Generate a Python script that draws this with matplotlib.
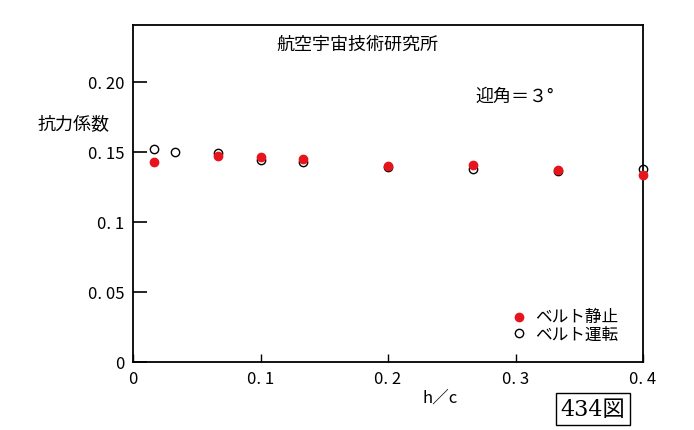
import matplotlib
matplotlib.use("Agg")
import matplotlib.pyplot as plt
from matplotlib.patches import Rectangle

plt.rcParams['font.family'] = ['Noto Sans CJK JP', 'DejaVu Sans']

# data: h/c vs drag coefficient
x_static = [0.0167, 0.0667, 0.1, 0.1333, 0.2, 0.2667, 0.3333, 0.4]
cd_static = [0.1426, 0.1474, 0.1466, 0.1450, 0.1402, 0.1409, 0.1371, 0.1338]
x_moving = [0.0167, 0.0333, 0.0667, 0.1, 0.1333, 0.2, 0.2667, 0.3333, 0.4]
cd_moving = [0.1521, 0.1502, 0.1493, 0.1443, 0.1429, 0.1393, 0.1379, 0.1364, 0.1379]

xticks = [0, 0.1, 0.2, 0.3, 0.4]
xticklabels = ["0", "0. 1", "0. 2", "0. 3", "0. 4"]
yticks = [0, 0.05, 0.1, 0.15, 0.2]
yticklabels = ["0", "0. 05", "0. 1", "0. 15", "0. 20"]

W, H = 694, 431
fig = plt.figure(figsize=(W / 100, H / 100), dpi=100)
ax = fig.add_axes([133 / W, 1 - 363 / H, (643 - 133) / W, (363 - 26) / H])

ax.plot(x_static, cd_static, linestyle='none', marker='o', markersize=6,
        color='#e8141c', zorder=3, clip_on=False)
ax.plot(x_moving, cd_moving, linestyle='none', marker='o', markersize=6,
        markerfacecolor='none', markeredgecolor='black', markeredgewidth=1.0,
        zorder=2, clip_on=False)

ax.set_xlim(0, 0.4)
ax.set_ylim(0, 0.2407)
ax.set_xticks(xticks)
ax.set_xticklabels(xticklabels)
ax.set_yticks(yticks)
ax.set_yticklabels(yticklabels)
ax.tick_params(axis='both', direction='in', labelsize=12, colors='black')
ax.tick_params(axis='y', length=10, width=1.2, pad=6)
ax.tick_params(axis='x', length=6, width=1.0, pad=6)
for s in ax.spines.values():
    s.set_linewidth(1.3)

fig.text(357 / W, 1 - 45 / H, "航空宇宙技術研究所", fontsize=13, ha='center', va='center')
fig.text(475 / W, 1 - 97 / H, "迎角＝３°", fontsize=13, ha='left', va='center')
fig.text(38 / W, 1 - 125 / H, "抗力係数", fontsize=13, ha='left', va='center')
fig.text(440 / W, 1 - 398 / H, "h／c", fontsize=12, ha='center', va='center')

# legend
fig.lines.append(plt.Line2D([519 / W], [1 - 318 / H], transform=fig.transFigure,
                            marker='o', markersize=6, color='#e8141c', linestyle='none'))
fig.lines.append(plt.Line2D([519 / W], [1 - 334 / H], transform=fig.transFigure,
                            marker='o', markersize=6, markerfacecolor='none',
                            markeredgecolor='black', linestyle='none'))
fig.text(535 / W, 1 - 317 / H, "ベルト静止", fontsize=12, ha='left', va='center',
         linespacing=1.0)
fig.text(535 / W, 1 - 335 / H, "ベルト運転", fontsize=12, ha='left', va='center',
         linespacing=1.0)

# figure number box
fig.patches.append(Rectangle((556 / W, 1 - 426 / H), 74 / W, 32 / H,
                             transform=fig.transFigure, fill=False,
                             edgecolor='black', linewidth=1.0))
fig.text(593 / W, 1 - 410 / H, "434図", fontsize=16, ha='center', va='center',
         family=['DejaVu Serif', 'Noto Sans CJK JP'])

fig.savefig("out.png", dpi=100)
